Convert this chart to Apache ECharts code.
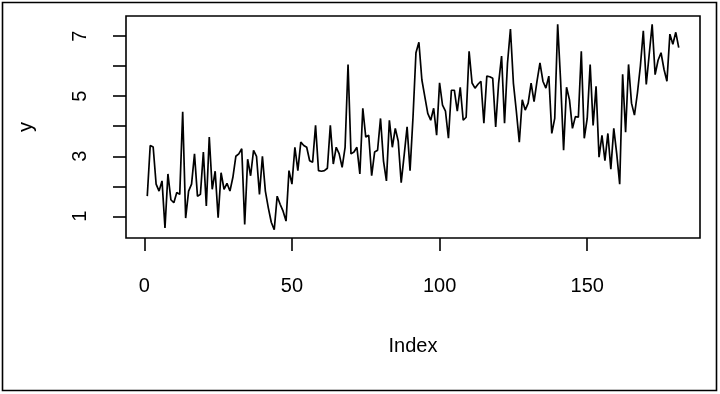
<!DOCTYPE html>
<html><head><meta charset="utf-8">
<script src="https://cdn.jsdelivr.net/npm/echarts@6/dist/echarts.min.js"></script>
<style>html,body{margin:0;padding:0;background:#fff}#c{width:720px;height:394px}</style>
</head><body><div id="c"></div>
<script>
const yValues = [
1.67,3.36,3.31,2.07,1.84,2.18,0.61,2.41,1.55,1.45,
1.79,1.73,4.48,0.94,1.84,2.07,3.08,1.67,1.73,3.14,
1.34,3.64,1.9,2.5,0.95,2.45,1.9,2.1,1.84,2.3,
3.0,3.08,3.25,0.73,2.9,2.35,3.2,3.0,1.73,3.0,
1.84,1.28,0.8,0.55,1.67,1.4,1.17,0.84,2.52,2.07,
3.3,2.52,3.47,3.36,3.3,2.85,2.8,4.03,2.52,2.5,
2.52,2.6,4.03,2.74,3.3,3.08,2.63,3.3,6.06,3.08,
3.14,3.3,2.41,4.6,3.64,3.7,2.35,3.14,3.2,4.26,
2.85,2.18,4.2,3.3,3.93,3.5,2.12,3.03,3.98,2.52,
4.3,6.45,6.8,5.55,4.99,4.43,4.2,4.6,3.7,5.45,
4.7,4.5,3.6,5.2,5.2,4.5,5.3,4.2,4.3,6.5,
5.44,5.27,5.4,5.5,4.1,5.67,5.65,5.6,3.98,5.44,
6.34,4.1,6.1,7.24,5.44,4.5,3.47,4.88,4.54,4.77,
5.44,4.82,5.5,6.11,5.5,5.27,5.67,3.76,4.26,7.4,
5.5,3.2,5.3,4.88,3.93,4.32,4.3,6.5,3.6,4.26,
6.06,4.03,5.33,2.97,3.7,2.85,3.76,2.57,3.93,3.08,
2.07,5.73,3.8,6.06,4.77,4.37,5.1,6.0,7.18,5.39,
6.4,7.4,5.72,6.2,6.45,5.9,5.5,7.07,6.73,7.13,
6.62
];
const xTicks = [0, 50, 100, 150];
const yTicks = [1, 2, 3, 4, 5, 6, 7];
const yTickLabels = [1, 3, 5, 7];
const xName = 'Index';
const yName = 'y';

const n = yValues.length;
const pts = yValues.map((v, i) => [i + 1, v]);
const xPad = (n - 1) * 0.04;
const yMin = Math.min(...yValues), yMax = Math.max(...yValues);
const yPad = (yMax - yMin) * 0.04;
const font = 'Liberation Sans, Arial, sans-serif';

const chart = echarts.init(document.getElementById('c'), null, {renderer: 'canvas'});
chart.setOption({
  animation: false,
  backgroundColor: '#fff',
  grid: {left: 126, top: 16, right: 20, bottom: 156, show: true, borderColor: '#000', borderWidth: 1.6, backgroundColor: 'transparent'},
  xAxis: {
    type: 'value', min: 1 - xPad, max: n + xPad,
    axisLine: {show: false, onZero: false},
    splitLine: {show: false},
    axisTick: {show: true, inside: false, length: 13, lineStyle: {color: '#000', width: 1.6}, customValues: xTicks},
    axisLabel: {customValues: xTicks, color: '#000', fontSize: 20, fontFamily: font, margin: 38},
    name: xName, nameLocation: 'middle', nameGap: 98,
    nameTextStyle: {color: '#000', fontSize: 20, fontFamily: font}
  },
  yAxis: {
    type: 'value', min: yMin - yPad, max: yMax + yPad,
    axisLine: {show: false, onZero: false},
    splitLine: {show: false},
    axisTick: {show: true, inside: false, length: 13, lineStyle: {color: '#000', width: 1.6}, customValues: yTicks},
    axisLabel: {customValues: yTickLabels, rotate: 90, color: '#000', fontSize: 20, fontFamily: font, margin: 36},
    name: yName, nameLocation: 'middle', nameGap: 90,
    nameTextStyle: {color: '#000', fontSize: 20, fontFamily: font}
  },
  graphic: [{type: 'rect', shape: {x: 2.5, y: 2.5, width: 714, height: 388}, style: {fill: 'none', stroke: '#000', lineWidth: 1.6}, silent: true}],
  series: [{
    type: 'line', data: pts, showSymbol: false, symbol: 'none',
    lineStyle: {color: '#000', width: 1.7}, itemStyle: {color: '#000'}
  }]
});
</script></body></html>
